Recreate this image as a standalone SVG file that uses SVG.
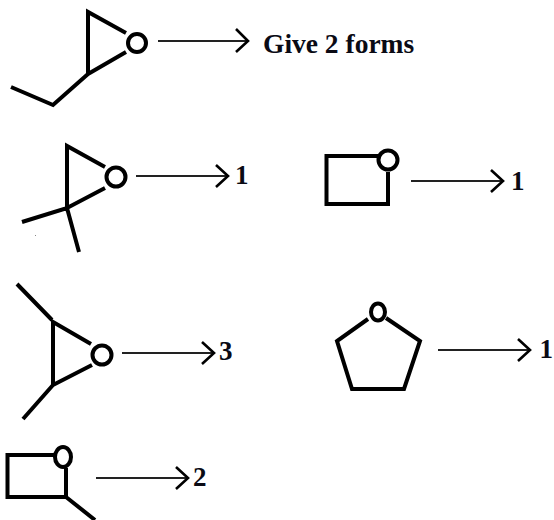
<svg xmlns="http://www.w3.org/2000/svg" width="554" height="520" viewBox="0 0 554 520">
<style>
.b{fill:none;stroke:#000;stroke-width:4;stroke-linejoin:miter}
.o{fill:#fff;stroke:#000;stroke-width:4}
.a{fill:none;stroke:#222;stroke-width:2.2}
.h{fill:none;stroke:#000;stroke-width:2.6}
text{font-family:"Liberation Serif","Times New Roman",serif;font-weight:700;fill:#0a0a14}
.n{font-size:27px}
</style>
<rect width="554" height="520" fill="#fff"/>
<g id="mol-ethyl-epoxide">
<path class="b" d="M126 33L88 12V74L126 52M88 74L53 105L11 87"/>
<circle class="o" cx="137" cy="43" r="9"/>
</g>
<g id="mol-dimethyl-epoxide">
<path class="b" d="M105 167L67 146V208L105 188M22 222L67 208L79 252"/>
<circle class="o" cx="116" cy="177" r="9.5"/>
<rect x="35" y="235" width="1" height="1" fill="#888"/>
</g>
<g id="mol-oxetane">
<path class="b" d="M378 156H326.500V204H388V172"/>
<circle class="o" cx="388" cy="160" r="9.500"/>
</g>
<g id="mol-dimethyl-trans-epoxide">
<path class="b" d="M91 344L53 322V385L92 365M17 284L52 320M53 385L23 419"/>
<circle class="o" cx="102" cy="355" r="9.500"/>
</g>
<g id="mol-thf">
<path class="b" d="M368 319L337 341L352 389H404L420 341L386 318"/>
<ellipse class="o" cx="378" cy="312" rx="7" ry="8.500"/>
</g>
<g id="mol-methyl-oxetane">
<path class="b" d="M56 455H7.500V497H66V468M66 497L95 520"/>
<ellipse class="o" cx="63" cy="457" rx="8" ry="10"/>
</g>
<g id="connectors">
<path class="a" d="M158 41H247M136 176H227M411 181H502M122 353H213M438 350H529M96 478H187"/>
<path class="h" d="M236 29L248 41L236 52M216 165L228 176L216 187M491 170L503 181L491 192M202 342L214 353L202 364M518 339L530 350L518 361M176 467L188 478L176 489"/>
</g>
<g id="labels">
<text x="263" y="53" font-size="27.500">Give 2 forms</text>
<text class="n" x="235" y="184">1</text>
<text class="n" x="511" y="190">1</text>
<text class="n" x="219" y="360">3</text>
<text class="n" x="539.500" y="358">1</text>
<text class="n" x="193" y="486">2</text>
</g>
</svg>
